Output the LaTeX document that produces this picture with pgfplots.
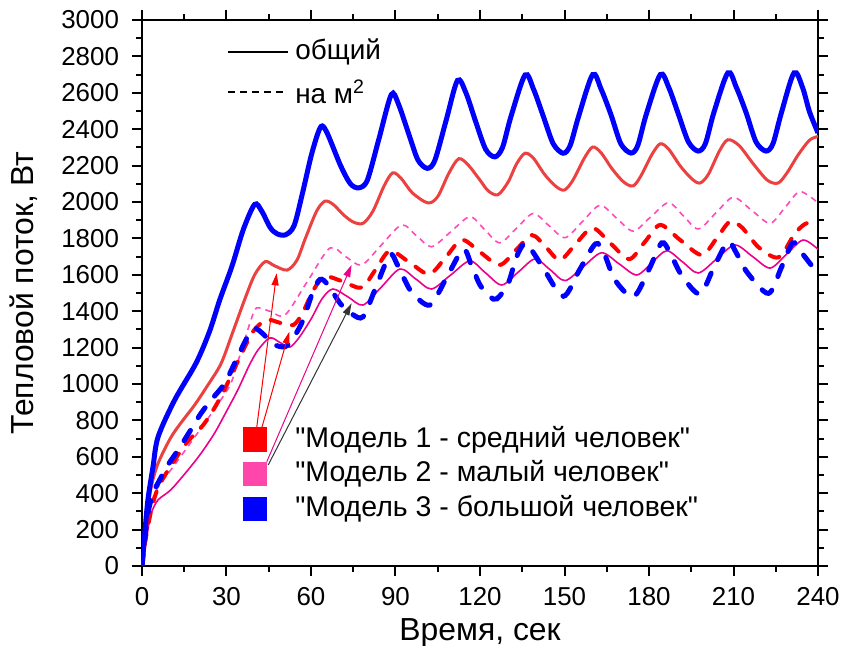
\documentclass[border=0pt]{standalone}
\usepackage{pgfplots}
\pgfplotsset{compat=1.18}
\usepackage{fontspec}
\setmainfont{Liberation Sans}[Ligatures=TeXOff]
\usetikzlibrary{arrows.meta,calc}
\definecolor{redsolid}{RGB}{235,65,65}
\definecolor{pinkdash}{RGB}{255,75,185}
\definecolor{pinksq}{RGB}{255,70,170}
\begin{document}
\begin{tikzpicture}
\begin{axis}[
  width=338bp, height=273bp, scale only axis,
  xmin=0, xmax=240, ymin=0, ymax=3000,
  xtick={0,30,...,240}, ytick={0,200,...,3000},
  minor x tick num=1, minor y tick num=1,
  tick align=outside, tick pos=both,
  major tick length=5bp, minor tick length=3bp,
  axis line style={line width=1bp},
  every tick/.append style={line width=1bp, black},
  tick label style={font=\fontsize{13}{15}\selectfont},
  xticklabel style={yshift=-2bp},
  yticklabel style={xshift=-3bp},
  /pgf/number format/assume math mode=true,
  /pgf/number format/1000 sep={},
  scaled ticks=false,
  xlabel={Время, сек}, ylabel={Тепловой поток, Вт},
  label style={font=\fontsize{16}{19}\selectfont},
  ylabel shift=5bp,
]
% Model 2 total (magenta solid)
\addplot[magenta, line width=0.8bp, smooth] coordinates {
(0,0) (1,80) (2,190) (3.3,290) (5.7,363) (10.2,418) (16.3,527) (21,620) (25.8,731) (30,850) (34,967) (38,1100) (41.2,1187) (45.4,1253) (49,1228) (52.5,1203) (56,1260) (60.2,1362) (64,1470) (67.8,1522) (73.2,1478) (78.5,1434) (85,1533) (91.6,1632) (97.2,1577) (102.8,1522) (109.6,1599) (116.4,1676) (122,1610) (127.7,1544) (133.6,1615) (139.5,1687) (144.9,1628) (150.2,1568) (156.7,1645) (163.2,1721) (169.4,1660) (175.6,1599) (181,1666) (186.3,1732) (191.9,1671) (197.5,1610) (204,1687) (210.5,1764) (216.8,1700) (223,1637) (228.9,1714) (234.7,1791) (240,1740)
};
% Model 2 per m2 (pink dashed)
\addplot[pinkdash, line width=0.8bp, dash pattern=on 3bp off 2.5bp, smooth] coordinates {
(0,0) (1,140) (2.5,300) (4,380) (6,440) (10.2,527) (16,650) (22.2,784) (27,890) (31.6,1005) (35,1170) (38.7,1352) (40.7,1418) (45.7,1398) (50.8,1379) (58.7,1563) (66.7,1747) (72.3,1700) (78,1654) (85,1764) (92.2,1874) (97.5,1814) (102.8,1754) (109.6,1836) (116.4,1919) (121.7,1848) (127,1776) (133,1856) (138.9,1937) (144.5,1870) (150.2,1804) (156.4,1893) (162.6,1982) (168.5,1911) (174.4,1840) (180.6,1918) (186.9,1996) (192.2,1924) (197.5,1852) (203.7,1939) (209.9,2026) (216.4,1955) (223,1883) (228.3,1970) (233.6,2057) (240,1995)
};
% Model 1 total (red solid)
\addplot[redsolid, line width=1.5bp, smooth] coordinates {
(0,0) (1,150) (2,300) (3.3,436) (5.7,564) (10.2,705) (14,790) (18.7,885) (23,985) (28,1110) (32,1275) (36.4,1462) (40,1600) (43.7,1672) (47,1650) (51.5,1626) (55,1680) (58,1800) (62,1950) (65,2005) (68,1985) (71.5,1930) (75,1890) (78.5,1883) (82,1950) (86,2090) (89,2160) (92,2130) (96,2050) (101.5,1995) (105,2030) (109,2160) (112.5,2238) (116,2200) (120,2120) (123,2060) (126.4,2040) (130,2110) (133,2210) (136,2268) (139,2240) (143,2150) (147,2085) (150,2066) (153,2120) (157,2240) (160,2302) (163,2270) (167,2180) (171,2110) (174.3,2088) (177,2140) (181,2260) (184,2320) (187,2290) (191,2200) (195,2130) (198,2104) (201,2150) (205,2280) (208,2342) (212,2310) (217,2210) (222,2120) (225.8,2104) (229,2160) (233,2260) (237,2340) (240,2360)
};
% Model 1 per m2 (red dashed)
\addplot[red, line width=2bp, line cap=round, dash pattern=on 5bp off 6bp, smooth] coordinates {
(0,0) (1,120) (3.3,308) (6,440) (11.6,582) (16,680) (22.2,784) (28,930) (34,1123) (39.4,1288) (44.3,1352) (49,1336) (53.7,1324) (57,1390) (61,1520) (65,1590) (71.5,1562) (78,1530) (83,1630) (88,1731) (95,1668) (102,1604) (108,1700) (113.6,1792) (120,1725) (127,1654) (133,1740) (138.5,1818) (143.5,1750) (148.4,1681) (154,1770) (160,1857) (166.5,1770) (173,1686) (178.5,1780) (184,1874) (191,1792) (198.7,1709) (204,1800) (208.7,1892) (213,1860) (219,1750) (226,1696) (231.7,1825) (235.5,1880) (240,1898)
};
% Model 3 total (blue solid)
\addplot[blue, line width=2.5bp, smooth] coordinates {
(0,0) (1,181) (2.1,363) (3.9,544) (5.7,709) (11.6,912) (19.2,1115) (24,1290) (27.6,1462) (32,1650) (36,1850) (40,1987) (42.5,1950) (45.5,1860) (48,1825) (51,1820) (54,1870) (57,2050) (60,2250) (62.5,2380) (64,2418) (66,2370) (70.5,2200) (74,2100) (77,2078) (80,2120) (84,2340) (88.5,2590) (91,2540) (95,2360) (98,2230) (101.3,2185) (104,2230) (108,2450) (112,2668) (115,2600) (118.5,2440) (122,2290) (125.3,2248) (128,2300) (131,2470) (136,2698) (139,2620) (142.5,2470) (146,2320) (149.5,2268) (152,2310) (155,2470) (160,2700) (163,2620) (166.5,2480) (170,2320) (173.6,2269) (176,2310) (179,2480) (184,2700) (187,2630) (190.5,2480) (194,2330) (197.4,2280) (200,2320) (203,2490) (208,2710) (211,2630) (214.5,2490) (218,2330) (221.5,2280) (224,2320) (227,2490) (231.5,2710) (234.5,2630) (237,2495) (240,2380)
};
% Model 3 per m2 (blue dashed)
\addplot[blue, line width=2.5bp, line cap=round, dash pattern=on 6bp off 7.5bp, smooth] coordinates {
(0,0) (1,150) (2.1,290) (3.9,401) (5.7,456) (9,550) (12.8,637) (17,740) (21,840) (25,920) (29.4,1005) (34,1150) (37.5,1260) (40,1306) (43,1275) (46.5,1220) (50.8,1205) (54,1260) (57.2,1352) (60.5,1500) (63.2,1575) (66,1545) (70.5,1440) (74.5,1385) (78.5,1370) (83,1530) (88,1710) (90.5,1660) (93,1580) (96,1500) (102.2,1434) (108,1580) (114,1740) (117,1650) (120,1544) (123.5,1480) (126,1468) (130,1553) (133,1700) (136,1775) (139,1720) (142.8,1628) (149.6,1482) (155.3,1626) (161,1770) (164,1720) (168,1570) (174.5,1480) (180,1630) (184.5,1775) (187.5,1720) (191.5,1600) (198,1495) (203,1640) (208,1782) (211,1720) (215,1610) (222.4,1498) (227,1640) (231,1775) (234,1725) (240,1605)
};
% top legend
\draw[black, line width=0.6bp] (30.5,2824) -- (51.8,2824);
\draw[black, line width=0.6bp, dash pattern=on 3.5bp off 2.5bp] (30.5,2604) -- (51.8,2604);
\node[anchor=west, inner sep=0pt, font=\fontsize{14}{16}\selectfont] at (54.3,2824) {общий};
\node[anchor=west, inner sep=0pt, font=\fontsize{14}{16}\selectfont] at (54.3,2604) {на м\textsuperscript{2}};
% arrows
\draw[red, line width=0.5bp, -{Triangle[length=6bp,width=3.5bp]}] (40.7,758) -- (47.8,1608);
\draw[red, line width=0.5bp, -{Triangle[length=6bp,width=3.5bp]}] (42.5,758) -- (52.3,1287);
\draw[magenta, line width=0.5bp, -{Triangle[length=6bp,width=3.5bp]}] (44.3,573) -- (74.4,1654);
\draw[black!80, line width=0.5bp, -{Triangle[length=6bp,width=3.5bp]}] (44.8,555) -- (74.4,1443);
% model legend
\fill[red] (35.9,629) rectangle (44.4,761);
\fill[pinksq] (35.9,439) rectangle (44.4,571);
\fill[blue] (35.9,247) rectangle (44.4,379);
\node[anchor=west, inner sep=0pt, font=\fontsize{14.3}{16}\selectfont] at (54.3,695) {"Модель 1 - средний человек"};
\node[anchor=west, inner sep=0pt, font=\fontsize{14.3}{16}\selectfont] at (54.3,505) {"Модель 2 - малый человек"};
\node[anchor=west, inner sep=0pt, font=\fontsize{14.3}{16}\selectfont] at (54.3,313) {"Модель 3 - большой человек"};
\end{axis}
\pgfresetboundingbox
\path[use as bounding box] ($(current axis.south west)+(-71bp,-40bp)$) rectangle ($(current axis.north east)+(12bp,10bp)$);
\end{tikzpicture}
\end{document}
